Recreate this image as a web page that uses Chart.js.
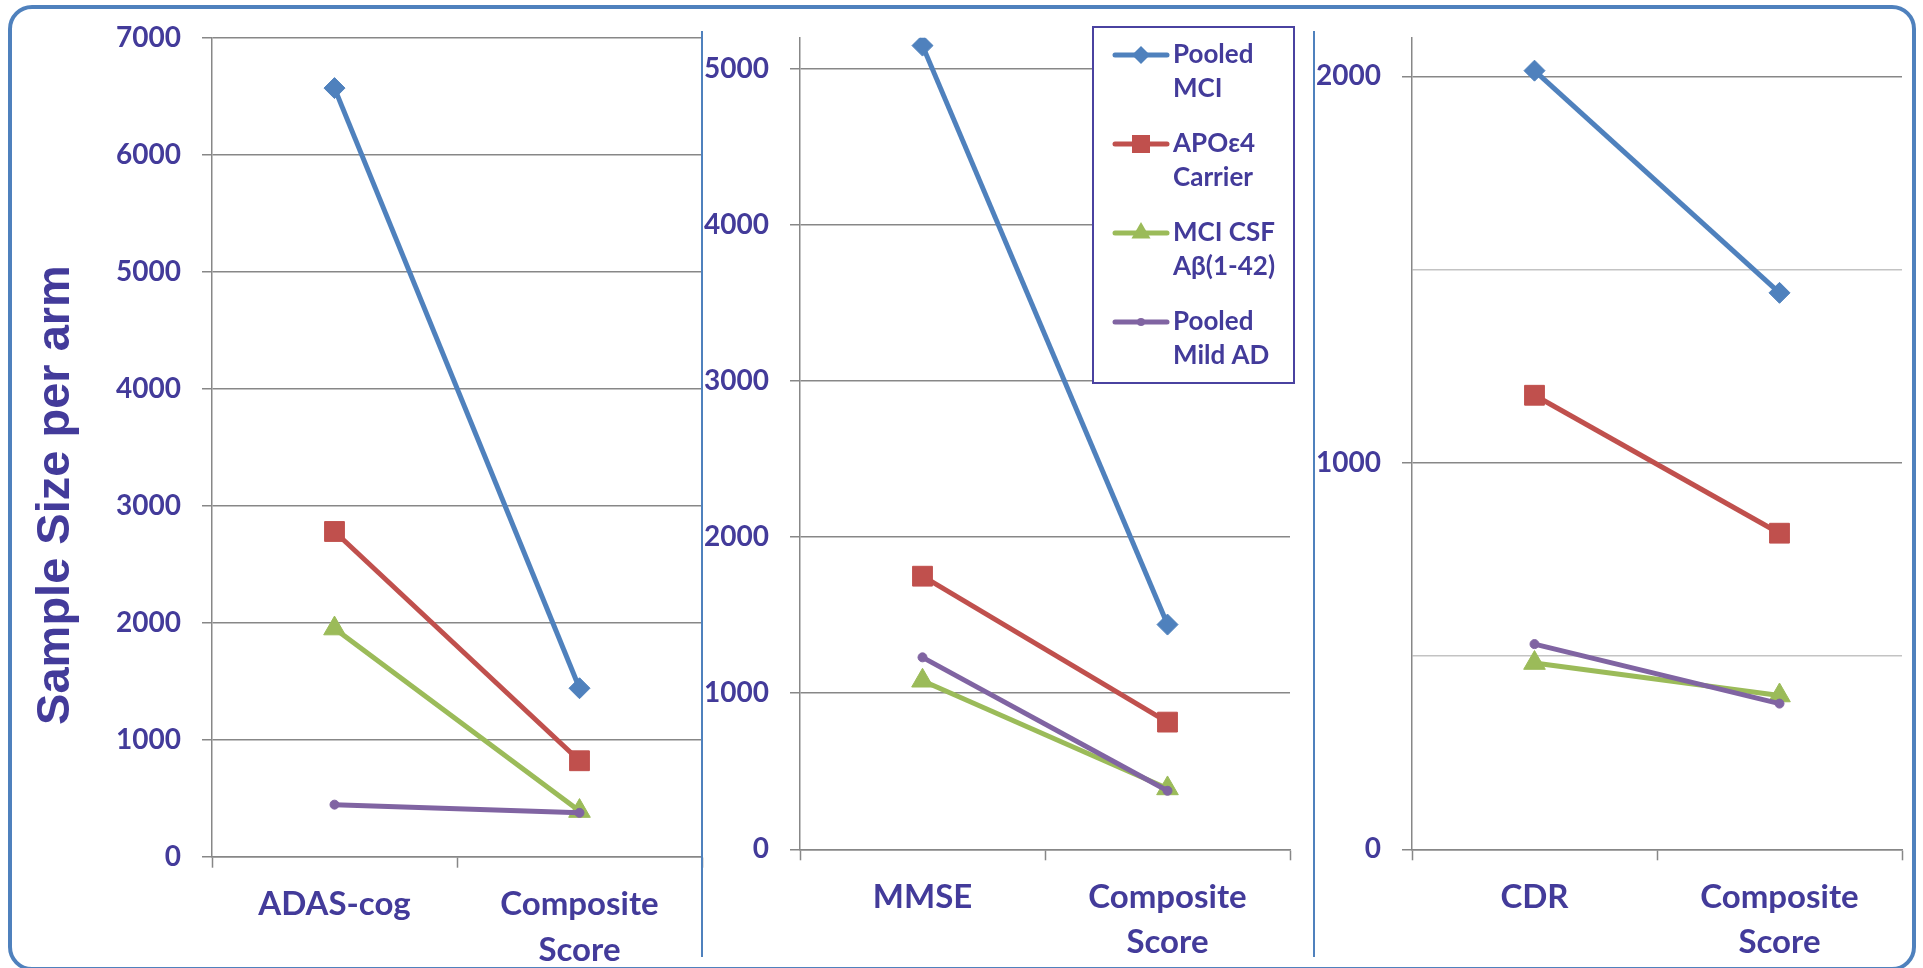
<!DOCTYPE html>
<html>
<head>
<meta charset="utf-8">
<script src="https://cdn.jsdelivr.net/npm/chart.js@4.4.0/dist/chart.umd.min.js"></script>
<style>
  html, body { margin: 0; padding: 0; background: #fff; }
  #wrap { position: relative; width: 1923px; height: 968px; overflow: hidden; }
  #wrap canvas { position: absolute; left: 0; top: 0; }
  .frame { position: absolute; left: 8px; top: 5px; width: 1908px; height: 966px; box-sizing: border-box;
           border: 4px solid #4F81BD; border-radius: 24px; }
  .sep { position: absolute; top: 31px; height: 926px; width: 2px; background: #4F81BD; }
</style>
</head>
<body>
<div id="wrap">
  <canvas id="adas" width="1923" height="968"></canvas>
  <canvas id="mmse" width="1923" height="968"></canvas>
  <canvas id="cdr" width="1923" height="968"></canvas>
  <div class="sep" style="left:700.5px"></div>
  <div class="sep" style="left:1313px"></div>
  <div class="frame"></div>
</div>
<script>
// categories
const adasCats = ['ADAS-cog', ['Composite', 'Score']];
const mmseCats = ['MMSE', ['Composite', 'Score']];
const cdrCats = ['CDR', ['Composite', 'Score']];
const seriesNames = [['Pooled', 'MCI'], ['APOε4', 'Carrier'], ['MCI CSF', 'Aβ(1-42)'], ['Pooled', 'Mild AD']];

// sample size per arm
const adasMci = [6570, 1440];
const adasApoe = [2780, 820];
const adasCsf = [1950, 390];
const adasMildAd = [445, 375];

const mmseMci = [5150, 1440];
const mmseApoe = [1750, 815];
const mmseCsf = [1080, 390];
const mmseMildAd = [1230, 375];

const cdrMci = [2015, 1440];
const cdrApoe = [1175, 818];
const cdrCsf = [482, 398];
const cdrMildAd = [531, 377];

// y axis ticks (cdr has unlabelled minor lines at 500 / 1500)
const adasTicks = [0, 1000, 2000, 3000, 4000, 5000, 6000, 7000];
const mmseTicks = [0, 1000, 2000, 3000, 4000, 5000];
const cdrTicks = [0, 500, 1000, 1500, 2000];
const adasMax = 7000, mmseMax = 5200, cdrMax = 2100;

const textColor = '#433B9A';
const gridGray = '#878787';
const minorGray = '#C3C3C3';
const colors = ['#4F81BD', '#C0504D', '#9BBB59', '#8064A2'];
const markers = ['rectRot', 'rect', 'triangle', 'circle'];
const markerRadius = [10.5, 14, 12.5, 4.5];

const W = 1923, H = 968;
const AXIS_W = 110;

function makeDatasets(values) {
  return values.map((v, i) => ({
    label: seriesNames[i].join(' '),
    data: v,
    borderColor: colors[i],
    backgroundColor: colors[i],
    borderWidth: 5,
    pointStyle: markers[i],
    pointRadius: markerRadius[i],
    pointBorderWidth: 1,
    pointBackgroundColor: colors[i],
    pointBorderColor: colors[i],
    order: 3 - i
  }));
}

const yTitle = {
  id: 'yTitle',
  afterDraw(chart) {
    const ctx = chart.ctx;
    ctx.save();
    ctx.translate(69, 495);
    ctx.rotate(-Math.PI / 2);
    ctx.font = 'bold 47px "Liberation Sans", Arial, sans-serif';
    ctx.fillStyle = textColor;
    ctx.textAlign = 'center';
    ctx.textBaseline = 'alphabetic';
    ctx.fillText('Sample Size per arm', 0, 0);
    ctx.restore();
  }
};

function legendMarker(ctx, style, x, y) {
  ctx.beginPath();
  if (style === 'rectRot') {
    const r = 9;
    ctx.moveTo(x - r, y); ctx.lineTo(x, y - r); ctx.lineTo(x + r, y); ctx.lineTo(x, y + r);
  } else if (style === 'rect') {
    ctx.rect(x - 9, y - 9, 18, 18);
  } else if (style === 'triangle') {
    const r = 11;
    ctx.moveTo(x, y - r); ctx.lineTo(x + r * 0.866, y + r / 2); ctx.lineTo(x - r * 0.866, y + r / 2);
  } else {
    ctx.arc(x, y, 4, 0, Math.PI * 2);
  }
  ctx.closePath();
  ctx.fill();
}

const boxLegend = {
  id: 'boxLegend',
  afterDraw(chart) {
    const ctx = chart.ctx;
    ctx.save();
    ctx.fillStyle = '#fff';
    ctx.fillRect(1093, 27, 201, 356);
    ctx.strokeStyle = '#4A42A0';
    ctx.lineWidth = 2;
    ctx.strokeRect(1093, 27, 201, 356);
    seriesNames.forEach((name, i) => {
      const y = 55 + i * 89;
      ctx.strokeStyle = colors[i];
      ctx.lineWidth = 5;
      ctx.lineCap = 'round';
      ctx.beginPath();
      ctx.moveTo(1115, y);
      ctx.lineTo(1167, y);
      ctx.stroke();
      ctx.fillStyle = colors[i];
      legendMarker(ctx, markers[i], 1141, y);
      ctx.fillStyle = textColor;
      ctx.font = 'bold 26px Lato, sans-serif';
      ctx.textAlign = 'left';
      ctx.textBaseline = 'alphabetic';
      ctx.fillText(name[0], 1173, 63 + i * 89);
      ctx.fillText(name[1], 1173, 97 + i * 89);
    });
    ctx.restore();
  }
};

function panel(id, cats, values, yMax, tickValues, box, plugins) {
  return new Chart(document.getElementById(id), {
    type: 'line',
    data: { labels: cats, datasets: makeDatasets(values) },
    plugins: plugins,
    options: {
      responsive: false,
      animation: false,
      layout: {
        padding: { left: box.left - AXIS_W, right: W - box.right, top: box.top, bottom: 0 }
      },
      plugins: { legend: { display: false }, tooltip: { enabled: false } },
      elements: { line: { tension: 0 } },
      scales: {
        x: {
          offset: true,
          grid: { offset: true, drawOnChartArea: false, drawTicks: true, tickLength: 11, tickColor: gridGray, tickWidth: 1.5 },
          border: { display: true, color: gridGray, width: 1.5 },
          ticks: {
            padding: 14,
            color: textColor,
            font: { family: 'Lato', weight: 'bold', size: 33, lineHeight: 1.385 }
          },
          afterFit: s => { s.height = H - box.bottom; }
        },
        y: {
          min: 0,
          max: yMax,
          afterBuildTicks: s => { s.ticks = tickValues.map(v => ({ value: v })); },
          grid: {
            color: c => (c.tick && c.tick.value % 1000 !== 0) ? minorGray : gridGray,
            tickColor: c => (c.tick && c.tick.value % 1000 !== 0) ? 'rgba(0,0,0,0)' : gridGray,
            lineWidth: 1.5,
            tickLength: 10,
            tickWidth: 1.5
          },
          border: { display: true, color: gridGray, width: 1.5 },
          ticks: {
            padding: 21,
            color: textColor,
            font: { family: 'Lato', weight: 'bold', size: 28 },
            callback: v => (v % 1000 === 0 ? v : '')
          },
          afterFit: s => { s.width = AXIS_W; }
        }
      }
    }
  });
}

panel('adas', adasCats, [adasMci, adasApoe, adasCsf, adasMildAd], adasMax, adasTicks,
  { left: 212, right: 702, top: 31.7, bottom: 856.7 }, [yTitle]);
panel('mmse', mmseCats, [mmseMci, mmseApoe, mmseCsf, mmseMildAd], mmseMax, mmseTicks,
  { left: 800, right: 1290, top: 31.5, bottom: 849.3 }, [boxLegend]);
panel('cdr', cdrCats, [cdrMci, cdrApoe, cdrCsf, cdrMildAd], cdrMax, cdrTicks,
  { left: 1412, right: 1902, top: 31.5, bottom: 849.3 }, []);
</script>
</body>
</html>
